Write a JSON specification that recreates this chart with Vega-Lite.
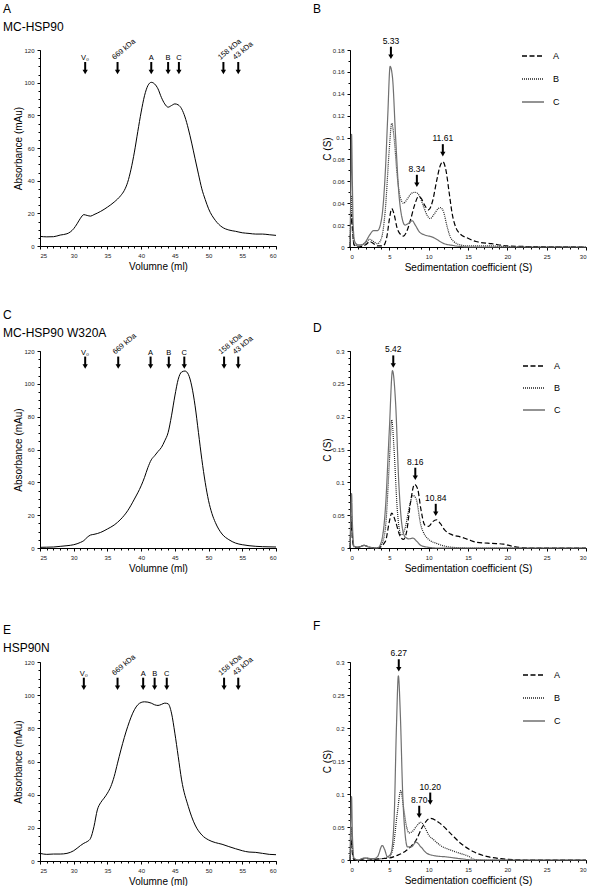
{
"$schema": "https://vega.github.io/schema/vega-lite/v6.json",
"background": "white",
"padding": {"left": 3, "top": 2, "right": 0, "bottom": 0},
"spacing": 47,
"resolve": {"scale": {"color": "independent", "strokeDash": "independent"}},
"vconcat": [
{"spacing": 37, "resolve": {"scale": {"color": "independent", "strokeDash": "independent"}}, "vconcat": [
{"spacing": 35, "resolve": {"scale": {"color": "independent", "strokeDash": "independent"}}, "hconcat": [
{"width": 236, "height": 196,
 "title": {"text": "A", "subtitle": "\u00a0\u00a0\u00a0MC-HSP90"},
 "layer": [
  {"data": {"name": "secA"}, "mark": {"type": "line", "color": "#000", "strokeWidth": 1, "interpolate": "monotone"},
   "encoding": {"x": {"field": "v", "type": "quantitative", "scale": {"domain": [25, 60], "nice": false}, "axis": {"values": [25,30,35,40,45,50,55,60], "title": "Volumne (ml)"}},
                "y": {"field": "a", "type": "quantitative", "scale": {"domain": [0, 120], "nice": false}, "axis": {"values": [0,20,40,60,80,100,120], "title": "Absorbance (mAu)"}}}},
  {"data": {"name": "arrA"}, "mark": {"type": "rule", "color": "#000", "strokeWidth": 2, "yOffset": -3, "y2Offset": -12},
   "encoding": {"x": {"field": "v", "type": "quantitative", "axis": {"values": [25,26,27,28,29,30,31,32,33,34,35,36,37,38,39,40,41,42,43,44,45,46,47,48,49,50,51,52,53,54,55,56,57,58,59,60], "labels": false, "domain": false, "tickSize": 2, "title": null, "orient": "bottom"}},
                "y": {"datum": 105.3, "axis": {"values": [0,5,10,15,20,25,30,35,40,45,50,55,60,65,70,75,80,85,90,95,100,105,110,115,120], "labels": false, "domain": false, "tickSize": 2, "title": null, "orient": "left"}},
                "y2": {"datum": 105.3}}},
  {"data": {"name": "arrA"}, "mark": {"type": "point", "shape": "triangle-down", "filled": true, "size": 28, "color": "#000", "opacity": 1, "yOffset": -2},
   "encoding": {"x": {"field": "v", "type": "quantitative", "axis": null}, "y": {"datum": 105.3, "axis": null}}},
  {"data": {"name": "arrA"}, "transform": [{"filter": "!datum.rot"}], "mark": {"type": "text", "fontSize": 7.5, "font": "Liberation Sans", "baseline": "alphabetic", "align": "center", "yOffset": -14},
   "encoding": {"x": {"field": "v", "type": "quantitative", "axis": null}, "y": {"datum": 105.3, "axis": null}, "text": {"field": "label"}}},
  {"data": {"name": "arrA"}, "transform": [{"filter": "datum.rot"}], "mark": {"type": "text", "fontSize": 7.5, "font": "Liberation Sans", "baseline": "alphabetic", "align": "left", "angle": 320, "yOffset": -14, "xOffset": -3},
   "encoding": {"x": {"field": "v", "type": "quantitative", "axis": null}, "y": {"datum": 105.3, "axis": null}, "text": {"field": "label"}}}
 ],
 "resolve": {"axis": {"x": "independent", "y": "independent"}}
},
{"width": 236, "height": 197,
 "title": {"text": "B", "subtitle": "\u00a0"},
 "layer": [
  {"data": {"name": "svB"}, "mark": {"type": "line", "strokeWidth": 1.2, "interpolate": "monotone"},
   "encoding": {"x": {"field": "s", "type": "quantitative", "scale": {"domain": [0, 30], "nice": false}, "axis": {"values": [0,5,10,15,20,25,30], "title": "Sedimentation coefficient (S)"}},
                "y": {"field": "c", "type": "quantitative", "scale": {"domain": [0, 0.18], "nice": false}, "axis": {"values": [0,0.02,0.04,0.06,0.08,0.1,0.12,0.14,0.16,0.18], "format": ".2~f", "title": "C (S)"}},
                "color": {"field": "sample", "type": "nominal", "scale": {"domain": ["A","B","C"], "range": ["#000000","#222222","#707070"]}, "legend": {"title": null, "orient": "none", "legendX": 171, "legendY": -6, "symbolType": "stroke", "symbolSize": 484, "symbolStrokeWidth": 1.3, "labelFontSize": 9, "labelOffset": 8, "rowPadding": 6, "padding": 0}},
                "strokeDash": {"field": "sample", "type": "nominal", "scale": {"domain": ["A","B","C"], "range": [[5,2.5],[1,1],[1,0]]}, "legend": {"title": null, "orient": "none", "legendX": 171, "legendY": -6, "symbolType": "stroke", "symbolSize": 484, "symbolStrokeWidth": 1.3, "labelFontSize": 9, "labelOffset": 8, "rowPadding": 6, "padding": 0}}}},
  {"data": {"name": "pkB"}, "mark": {"type": "rule", "color": "#000", "strokeWidth": 2, "yOffset": -3, "y2Offset": -12},
   "encoding": {"x": {"field": "s", "type": "quantitative", "axis": {"values": [0,1,2,3,4,5,6,7,8,9,10,11,12,13,14,15,16,17,18,19,20,21,22,23,24,25,26,27,28,29,30], "labels": false, "domain": false, "tickSize": 2, "title": null, "orient": "bottom"}},
                "y": {"field": "tip", "type": "quantitative", "axis": {"values": [0,0.01,0.02,0.03,0.04,0.05,0.06,0.07,0.08,0.09,0.1,0.11,0.12,0.13,0.14,0.15,0.16,0.17,0.18], "labels": false, "domain": false, "tickSize": 2, "title": null, "orient": "left"}},
                "y2": {"field": "tip"}}},
  {"data": {"name": "pkB"}, "mark": {"type": "point", "shape": "triangle-down", "filled": true, "size": 28, "color": "#000", "opacity": 1, "yOffset": -2},
   "encoding": {"x": {"field": "s", "type": "quantitative", "axis": null}, "y": {"field": "tip", "type": "quantitative", "axis": null}}},
  {"data": {"name": "pkB"}, "mark": {"type": "text", "fontSize": 8.5, "font": "Liberation Sans", "baseline": "alphabetic", "align": "center", "yOffset": -15},
   "encoding": {"x": {"field": "s", "type": "quantitative", "axis": null}, "y": {"field": "tip", "type": "quantitative", "axis": null}, "text": {"field": "label"}}}
 ],
 "resolve": {"axis": {"x": "independent", "y": "independent"}}
}
]},
{"spacing": 35, "resolve": {"scale": {"color": "independent", "strokeDash": "independent"}}, "hconcat": [
{"width": 236, "height": 197,
 "title": {"text": "C", "subtitle": "\u00a0\u00a0\u00a0MC-HSP90 W320A", "offset": -8},
 "layer": [
  {"data": {"name": "secC"}, "mark": {"type": "line", "color": "#000", "strokeWidth": 1, "interpolate": "monotone"},
   "encoding": {"x": {"field": "v", "type": "quantitative", "scale": {"domain": [25, 60], "nice": false}, "axis": {"values": [25,30,35,40,45,50,55,60], "title": "Volumne (ml)"}},
                "y": {"field": "a", "type": "quantitative", "scale": {"domain": [0, 120], "nice": false}, "axis": {"values": [0,20,40,60,80,100,120], "title": "Absorbance (mAu)"}}}},
  {"data": {"name": "arrC"}, "mark": {"type": "rule", "color": "#000", "strokeWidth": 2, "yOffset": -3, "y2Offset": -12},
   "encoding": {"x": {"field": "v", "type": "quantitative", "axis": {"values": [25,26,27,28,29,30,31,32,33,34,35,36,37,38,39,40,41,42,43,44,45,46,47,48,49,50,51,52,53,54,55,56,57,58,59,60], "labels": false, "domain": false, "tickSize": 2, "title": null, "orient": "bottom"}},
                "y": {"datum": 109.3, "axis": {"values": [0,5,10,15,20,25,30,35,40,45,50,55,60,65,70,75,80,85,90,95,100,105,110,115,120], "labels": false, "domain": false, "tickSize": 2, "title": null, "orient": "left"}},
                "y2": {"datum": 109.3}}},
  {"data": {"name": "arrC"}, "mark": {"type": "point", "shape": "triangle-down", "filled": true, "size": 28, "color": "#000", "opacity": 1, "yOffset": -2},
   "encoding": {"x": {"field": "v", "type": "quantitative", "axis": null}, "y": {"datum": 109.3, "axis": null}}},
  {"data": {"name": "arrC"}, "transform": [{"filter": "!datum.rot"}], "mark": {"type": "text", "fontSize": 7.5, "font": "Liberation Sans", "baseline": "alphabetic", "align": "center", "yOffset": -14},
   "encoding": {"x": {"field": "v", "type": "quantitative", "axis": null}, "y": {"datum": 109.3, "axis": null}, "text": {"field": "label"}}},
  {"data": {"name": "arrC"}, "transform": [{"filter": "datum.rot"}], "mark": {"type": "text", "fontSize": 7.5, "font": "Liberation Sans", "baseline": "alphabetic", "align": "left", "angle": 320, "yOffset": -14, "xOffset": -3},
   "encoding": {"x": {"field": "v", "type": "quantitative", "axis": null}, "y": {"datum": 109.3, "axis": null}, "text": {"field": "label"}}}
 ],
 "resolve": {"axis": {"x": "independent", "y": "independent"}}
},
{"width": 236, "height": 197,
 "title": {"text": "D", "subtitle": "\u00a0", "offset": -8},
 "layer": [
  {"data": {"name": "svD"}, "mark": {"type": "line", "strokeWidth": 1.2, "interpolate": "monotone"},
   "encoding": {"x": {"field": "s", "type": "quantitative", "scale": {"domain": [0, 30], "nice": false}, "axis": {"values": [0,5,10,15,20,25,30], "title": "Sedimentation coefficient (S)"}},
                "y": {"field": "c", "type": "quantitative", "scale": {"domain": [0, 0.3], "nice": false}, "axis": {"values": [0,0.05,0.1,0.15,0.2,0.25,0.3], "format": ".2~f", "title": "C (S)"}},
                "color": {"field": "sample", "type": "nominal", "scale": {"domain": ["A","B","C"], "range": ["#000000","#222222","#707070"]}, "legend": {"title": null, "orient": "none", "legendX": 172, "legendY": 3, "symbolType": "stroke", "symbolSize": 484, "symbolStrokeWidth": 1.3, "labelFontSize": 9, "labelOffset": 8, "rowPadding": 5, "padding": 0}},
                "strokeDash": {"field": "sample", "type": "nominal", "scale": {"domain": ["A","B","C"], "range": [[5,2.5],[1,1],[1,0]]}, "legend": {"title": null, "orient": "none", "legendX": 172, "legendY": 3, "symbolType": "stroke", "symbolSize": 484, "symbolStrokeWidth": 1.3, "labelFontSize": 9, "labelOffset": 8, "rowPadding": 5, "padding": 0}}}},
  {"data": {"name": "pkD"}, "mark": {"type": "rule", "color": "#000", "strokeWidth": 2, "yOffset": -3, "y2Offset": -12},
   "encoding": {"x": {"field": "s", "type": "quantitative", "axis": {"values": [0,1,2,3,4,5,6,7,8,9,10,11,12,13,14,15,16,17,18,19,20,21,22,23,24,25,26,27,28,29,30], "labels": false, "domain": false, "tickSize": 2, "title": null, "orient": "bottom"}},
                "y": {"field": "tip", "type": "quantitative", "axis": {"values": [0,0.01,0.02,0.03,0.04,0.05,0.06,0.07,0.08,0.09,0.1,0.11,0.12,0.13,0.14,0.15,0.16,0.17,0.18,0.19,0.2,0.21,0.22,0.23,0.24,0.25,0.26,0.27,0.28,0.29,0.3], "labels": false, "domain": false, "tickSize": 2, "title": null, "orient": "left"}},
                "y2": {"field": "tip"}}},
  {"data": {"name": "pkD"}, "mark": {"type": "point", "shape": "triangle-down", "filled": true, "size": 28, "color": "#000", "opacity": 1, "yOffset": -2},
   "encoding": {"x": {"field": "s", "type": "quantitative", "axis": null}, "y": {"field": "tip", "type": "quantitative", "axis": null}}},
  {"data": {"name": "pkD"}, "mark": {"type": "text", "fontSize": 8.5, "font": "Liberation Sans", "baseline": "alphabetic", "align": "center", "yOffset": -15},
   "encoding": {"x": {"field": "s", "type": "quantitative", "axis": null}, "y": {"field": "tip", "type": "quantitative", "axis": null}, "text": {"field": "label"}}}
 ],
 "resolve": {"axis": {"x": "independent", "y": "independent"}}
}
]}
]},
{"spacing": 35, "resolve": {"scale": {"color": "independent", "strokeDash": "independent"}}, "hconcat": [
{"width": 236, "height": 199,
 "title": {"text": "E", "subtitle": "\u00a0\u00a0\u00a0HSP90N", "offset": -2},
 "layer": [
  {"data": {"name": "secE"}, "mark": {"type": "line", "color": "#000", "strokeWidth": 1, "interpolate": "monotone"},
   "encoding": {"x": {"field": "v", "type": "quantitative", "scale": {"domain": [25, 60], "nice": false}, "axis": {"values": [25,30,35,40,45,50,55,60], "title": "Volumne (ml)"}},
                "y": {"field": "a", "type": "quantitative", "scale": {"domain": [0, 120], "nice": false}, "axis": {"values": [0,20,40,60,80,100,120], "title": "Absorbance (mAu)"}}}},
  {"data": {"name": "arrE"}, "mark": {"type": "rule", "color": "#000", "strokeWidth": 2, "yOffset": -3, "y2Offset": -12},
   "encoding": {"x": {"field": "v", "type": "quantitative", "axis": {"values": [25,26,27,28,29,30,31,32,33,34,35,36,37,38,39,40,41,42,43,44,45,46,47,48,49,50,51,52,53,54,55,56,57,58,59,60], "labels": false, "domain": false, "tickSize": 2, "title": null, "orient": "bottom"}},
                "y": {"datum": 103.3, "axis": {"values": [0,5,10,15,20,25,30,35,40,45,50,55,60,65,70,75,80,85,90,95,100,105,110,115,120], "labels": false, "domain": false, "tickSize": 2, "title": null, "orient": "left"}},
                "y2": {"datum": 103.3}}},
  {"data": {"name": "arrE"}, "mark": {"type": "point", "shape": "triangle-down", "filled": true, "size": 28, "color": "#000", "opacity": 1, "yOffset": -2},
   "encoding": {"x": {"field": "v", "type": "quantitative", "axis": null}, "y": {"datum": 103.3, "axis": null}}},
  {"data": {"name": "arrE"}, "transform": [{"filter": "!datum.rot"}], "mark": {"type": "text", "fontSize": 7.5, "font": "Liberation Sans", "baseline": "alphabetic", "align": "center", "yOffset": -14},
   "encoding": {"x": {"field": "v", "type": "quantitative", "axis": null}, "y": {"datum": 103.3, "axis": null}, "text": {"field": "label"}}},
  {"data": {"name": "arrE"}, "transform": [{"filter": "datum.rot"}], "mark": {"type": "text", "fontSize": 7.5, "font": "Liberation Sans", "baseline": "alphabetic", "align": "left", "angle": 320, "yOffset": -14, "xOffset": -3},
   "encoding": {"x": {"field": "v", "type": "quantitative", "axis": null}, "y": {"datum": 103.3, "axis": null}, "text": {"field": "label"}}}
 ],
 "resolve": {"axis": {"x": "independent", "y": "independent"}}
},
{"width": 236, "height": 198,
 "title": {"text": "F", "subtitle": "\u00a0", "offset": -2},
 "layer": [
  {"data": {"name": "svF"}, "mark": {"type": "line", "strokeWidth": 1.2, "interpolate": "monotone"},
   "encoding": {"x": {"field": "s", "type": "quantitative", "scale": {"domain": [0, 30], "nice": false}, "axis": {"values": [0,5,10,15,20,25,30], "title": "Sedimentation coefficient (S)"}},
                "y": {"field": "c", "type": "quantitative", "scale": {"domain": [0, 0.3], "nice": false}, "axis": {"values": [0,0.05,0.1,0.15,0.2,0.25,0.3], "format": ".2~f", "title": "C (S)"}},
                "color": {"field": "sample", "type": "nominal", "scale": {"domain": ["A","B","C"], "range": ["#000000","#222222","#707070"]}, "legend": {"title": null, "orient": "none", "legendX": 172, "legendY": 1, "symbolType": "stroke", "symbolSize": 484, "symbolStrokeWidth": 1.3, "labelFontSize": 9, "labelOffset": 8, "rowPadding": 6, "padding": 0}},
                "strokeDash": {"field": "sample", "type": "nominal", "scale": {"domain": ["A","B","C"], "range": [[5,2.5],[1,1],[1,0]]}, "legend": {"title": null, "orient": "none", "legendX": 172, "legendY": 1, "symbolType": "stroke", "symbolSize": 484, "symbolStrokeWidth": 1.3, "labelFontSize": 9, "labelOffset": 8, "rowPadding": 6, "padding": 0}}}},
  {"data": {"name": "pkF"}, "mark": {"type": "rule", "color": "#000", "strokeWidth": 2, "yOffset": -3, "y2Offset": -12},
   "encoding": {"x": {"field": "s", "type": "quantitative", "axis": {"values": [0,1,2,3,4,5,6,7,8,9,10,11,12,13,14,15,16,17,18,19,20,21,22,23,24,25,26,27,28,29,30], "labels": false, "domain": false, "tickSize": 2, "title": null, "orient": "bottom"}},
                "y": {"field": "tip", "type": "quantitative", "axis": {"values": [0,0.01,0.02,0.03,0.04,0.05,0.06,0.07,0.08,0.09,0.1,0.11,0.12,0.13,0.14,0.15,0.16,0.17,0.18,0.19,0.2,0.21,0.22,0.23,0.24,0.25,0.26,0.27,0.28,0.29,0.3], "labels": false, "domain": false, "tickSize": 2, "title": null, "orient": "left"}},
                "y2": {"field": "tip"}}},
  {"data": {"name": "pkF"}, "mark": {"type": "point", "shape": "triangle-down", "filled": true, "size": 28, "color": "#000", "opacity": 1, "yOffset": -2},
   "encoding": {"x": {"field": "s", "type": "quantitative", "axis": null}, "y": {"field": "tip", "type": "quantitative", "axis": null}}},
  {"data": {"name": "pkF"}, "mark": {"type": "text", "fontSize": 8.5, "font": "Liberation Sans", "baseline": "alphabetic", "align": "center", "yOffset": -15},
   "encoding": {"x": {"field": "s", "type": "quantitative", "axis": null}, "y": {"field": "tip", "type": "quantitative", "axis": null}, "text": {"field": "label"}}}
 ],
 "resolve": {"axis": {"x": "independent", "y": "independent"}}
}
]}
],
"datasets": {
"secA": [
{"v":25,"a":5.9},{"v":26,"a":5.6},{"v":27,"a":5.7},{"v":28,"a":6.7},{"v":29,"a":7.5},{"v":30,"a":10.6},{"v":30.5,"a":13.6},{"v":31,"a":17},{"v":31.5,"a":19.2},{"v":32,"a":18.7},{"v":32.5,"a":18.3},{"v":33,"a":19.2},{"v":34,"a":21.2},{"v":35,"a":23.8},{"v":36,"a":26.9},{"v":37,"a":31},{"v":37.5,"a":34},{"v":38,"a":39},{"v":38.5,"a":47},{"v":39,"a":57.5},{"v":39.5,"a":70},{"v":40,"a":82},{"v":40.5,"a":92},{"v":41,"a":98.2},{"v":41.5,"a":100.2},{"v":42,"a":99.2},{"v":42.5,"a":96.2},{"v":43,"a":91},{"v":43.5,"a":87},{"v":44,"a":85},{"v":44.5,"a":86},{"v":45,"a":87},{"v":45.5,"a":86.4},{"v":46,"a":84},{"v":46.5,"a":79},{"v":47,"a":71.7},{"v":47.5,"a":63},{"v":48,"a":53.4},{"v":48.5,"a":44},{"v":49,"a":35},{"v":49.5,"a":28.5},{"v":50,"a":22.8},{"v":51,"a":15.7},{"v":52,"a":11.6},{"v":53,"a":9.8},{"v":54,"a":9},{"v":55,"a":8.1},{"v":56,"a":7.7},{"v":57,"a":7.3},{"v":58,"a":7.3},{"v":59,"a":6.9},{"v":60,"a":6.5}
],
"secC": [
{"v":25,"a":0.4},{"v":26,"a":0.5},{"v":27,"a":0.6},{"v":28,"a":1},{"v":29,"a":1.4},{"v":30,"a":2},{"v":31,"a":3.4},{"v":31.5,"a":4.5},{"v":32,"a":6.5},{"v":32.5,"a":7.9},{"v":33,"a":8.3},{"v":34,"a":9.5},{"v":35,"a":11.6},{"v":36,"a":14},{"v":37,"a":17.6},{"v":38,"a":22.7},{"v":39,"a":29.8},{"v":40,"a":37.9},{"v":40.5,"a":43},{"v":41,"a":49},{"v":41.5,"a":53.7},{"v":42,"a":56.2},{"v":42.5,"a":58.8},{"v":43,"a":61.2},{"v":43.5,"a":65.3},{"v":44,"a":70.3},{"v":44.5,"a":80.5},{"v":45,"a":92.6},{"v":45.5,"a":102.8},{"v":46,"a":107.2},{"v":46.5,"a":107.8},{"v":47,"a":105.8},{"v":47.5,"a":98.7},{"v":48,"a":86.6},{"v":48.5,"a":70.3},{"v":49,"a":54},{"v":49.5,"a":40},{"v":50,"a":28.8},{"v":50.5,"a":21},{"v":51,"a":15.6},{"v":52,"a":8.5},{"v":53,"a":5.1},{"v":54,"a":3},{"v":55,"a":2},{"v":56,"a":1.4},{"v":58,"a":0.8},{"v":60,"a":0.6}
],
"secE": [
{"v":25,"a":4.6},{"v":26,"a":4},{"v":27,"a":4.2},{"v":28,"a":4.2},{"v":29,"a":4.6},{"v":30,"a":6.2},{"v":31,"a":9.3},{"v":31.5,"a":10.7},{"v":32,"a":11.7},{"v":32.5,"a":13.7},{"v":33,"a":20.7},{"v":33.5,"a":30.8},{"v":34,"a":35.2},{"v":34.5,"a":37.9},{"v":35,"a":40.9},{"v":35.5,"a":44.9},{"v":36,"a":50.9},{"v":36.5,"a":59},{"v":37,"a":67},{"v":38,"a":81},{"v":39,"a":91.2},{"v":39.5,"a":94.2},{"v":40,"a":95.6},{"v":40.5,"a":96},{"v":41,"a":95.8},{"v":41.5,"a":95.2},{"v":42,"a":94.2},{"v":42.5,"a":93.8},{"v":43,"a":94.4},{"v":43.5,"a":95.2},{"v":44,"a":94.8},{"v":44.5,"a":89.2},{"v":45,"a":77.1},{"v":45.5,"a":63},{"v":46,"a":48.9},{"v":47,"a":32.8},{"v":48,"a":21.7},{"v":49,"a":15.7},{"v":50,"a":12.7},{"v":51,"a":11.1},{"v":52,"a":10.1},{"v":53,"a":8.7},{"v":54,"a":7.4},{"v":55,"a":6.2},{"v":56,"a":5.4},{"v":57,"a":5.2},{"v":58,"a":4.6},{"v":59,"a":4},{"v":60,"a":3.8}
],
"arrA": [
{"v":31.7,"label":"V₀","rot":false},{"v":36.5,"label":"669 kDa","rot":true},{"v":41.5,"label":"A","rot":false},{"v":44.0,"label":"B","rot":false},{"v":45.6,"label":"C","rot":false},{"v":52.2,"label":"158 kDa","rot":true},{"v":54.4,"label":"43 kDa","rot":true}
],
"arrC": [
{"v":31.7,"label":"V₀","rot":false},{"v":36.6,"label":"669 kDa","rot":true},{"v":41.4,"label":"A","rot":false},{"v":44.1,"label":"B","rot":false},{"v":46.4,"label":"C","rot":false},{"v":52.3,"label":"158 kDa","rot":true},{"v":54.4,"label":"43 kDa","rot":true}
],
"arrE": [
{"v":31.5,"label":"V₀","rot":false},{"v":36.5,"label":"669 kDa","rot":true},{"v":40.3,"label":"A","rot":false},{"v":42.0,"label":"B","rot":false},{"v":43.8,"label":"C","rot":false},{"v":52.3,"label":"158 kDa","rot":true},{"v":54.4,"label":"43 kDa","rot":true}
],
"pkB": [{"s":5.2,"tip":0.172,"label":"5.33"},{"s":8.5,"tip":0.055,"label":"8.34"},{"s":11.8,"tip":0.083,"label":"11.61"}],
"pkD": [{"s":5.5,"tip":0.275,"label":"5.42"},{"s":8.3,"tip":0.104,"label":"8.16"},{"s":10.9,"tip":0.049,"label":"10.84"}],
"pkF": [{"s":6.2,"tip":0.286,"label":"6.27"},{"s":8.8,"tip":0.064,"label":"8.70"},{"s":10.2,"tip":0.084,"label":"10.20"}],
"svB": [
{"sample":"A","s":0,"c":0},{"sample":"A","s":0.1,"c":0.02},{"sample":"A","s":0.2,"c":0.03},{"sample":"A","s":0.3,"c":0.02},{"sample":"A","s":0.5,"c":0.002},{"sample":"A","s":1,"c":0},{"sample":"A","s":2,"c":0.002},{"sample":"A","s":2.5,"c":0.005},{"sample":"A","s":3,"c":0.003},{"sample":"A","s":3.5,"c":0.001},{"sample":"A","s":4.2,"c":0.001},{"sample":"A","s":4.7,"c":0.01},{"sample":"A","s":5,"c":0.025},{"sample":"A","s":5.3,"c":0.035},{"sample":"A","s":5.6,"c":0.03},{"sample":"A","s":6,"c":0.017},{"sample":"A","s":6.5,"c":0.011},{"sample":"A","s":6.8,"c":0.01},{"sample":"A","s":7.2,"c":0.014},{"sample":"A","s":7.7,"c":0.025},{"sample":"A","s":8.2,"c":0.038},{"sample":"A","s":8.7,"c":0.046},{"sample":"A","s":9.1,"c":0.044},{"sample":"A","s":9.5,"c":0.038},{"sample":"A","s":10,"c":0.034},{"sample":"A","s":10.5,"c":0.042},{"sample":"A","s":11,"c":0.06},{"sample":"A","s":11.5,"c":0.075},{"sample":"A","s":11.8,"c":0.078},{"sample":"A","s":12.2,"c":0.07},{"sample":"A","s":12.6,"c":0.05},{"sample":"A","s":13,"c":0.03},{"sample":"A","s":13.5,"c":0.017},{"sample":"A","s":14,"c":0.012},{"sample":"A","s":15,"c":0.008},{"sample":"A","s":16,"c":0.005},{"sample":"A","s":18,"c":0.003},{"sample":"A","s":20,"c":0.001},{"sample":"A","s":22,"c":0.0005},{"sample":"A","s":30,"c":0},
{"sample":"B","s":0,"c":0},{"sample":"B","s":0.1,"c":0.03},{"sample":"B","s":0.2,"c":0.047},{"sample":"B","s":0.3,"c":0.02},{"sample":"B","s":0.5,"c":0.003},{"sample":"B","s":1,"c":0.001},{"sample":"B","s":2,"c":0.004},{"sample":"B","s":2.5,"c":0.007},{"sample":"B","s":3,"c":0.005},{"sample":"B","s":3.5,"c":0.003},{"sample":"B","s":4,"c":0.008},{"sample":"B","s":4.5,"c":0.035},{"sample":"B","s":5,"c":0.09},{"sample":"B","s":5.3,"c":0.113},{"sample":"B","s":5.6,"c":0.1},{"sample":"B","s":6,"c":0.065},{"sample":"B","s":6.4,"c":0.045},{"sample":"B","s":6.8,"c":0.04},{"sample":"B","s":7.3,"c":0.044},{"sample":"B","s":7.8,"c":0.049},{"sample":"B","s":8.3,"c":0.05},{"sample":"B","s":8.8,"c":0.047},{"sample":"B","s":9.3,"c":0.038},{"sample":"B","s":9.8,"c":0.029},{"sample":"B","s":10.2,"c":0.026},{"sample":"B","s":10.7,"c":0.03},{"sample":"B","s":11.2,"c":0.035},{"sample":"B","s":11.5,"c":0.036},{"sample":"B","s":11.9,"c":0.032},{"sample":"B","s":12.3,"c":0.02},{"sample":"B","s":12.7,"c":0.01},{"sample":"B","s":13.2,"c":0.005},{"sample":"B","s":14,"c":0.002},{"sample":"B","s":15,"c":0.001},{"sample":"B","s":18,"c":0.001},{"sample":"B","s":20,"c":0.0003},{"sample":"B","s":30,"c":0},
{"sample":"C","s":0,"c":0},{"sample":"C","s":0.1,"c":0.05},{"sample":"C","s":0.2,"c":0.103},{"sample":"C","s":0.3,"c":0.06},{"sample":"C","s":0.4,"c":0.02},{"sample":"C","s":0.6,"c":0.005},{"sample":"C","s":1,"c":0.002},{"sample":"C","s":1.5,"c":0.002},{"sample":"C","s":2,"c":0.005},{"sample":"C","s":2.5,"c":0.011},{"sample":"C","s":3,"c":0.015},{"sample":"C","s":3.5,"c":0.015},{"sample":"C","s":4,"c":0.025},{"sample":"C","s":4.5,"c":0.07},{"sample":"C","s":4.8,"c":0.12},{"sample":"C","s":5.1,"c":0.165},{"sample":"C","s":5.4,"c":0.155},{"sample":"C","s":5.8,"c":0.1},{"sample":"C","s":6.2,"c":0.05},{"sample":"C","s":6.6,"c":0.027},{"sample":"C","s":7,"c":0.02},{"sample":"C","s":7.5,"c":0.022},{"sample":"C","s":7.9,"c":0.024},{"sample":"C","s":8.3,"c":0.02},{"sample":"C","s":8.8,"c":0.014},{"sample":"C","s":9.5,"c":0.011},{"sample":"C","s":10.5,"c":0.009},{"sample":"C","s":11,"c":0.007},{"sample":"C","s":12,"c":0.003},{"sample":"C","s":13,"c":0.0015},{"sample":"C","s":14,"c":0.0005},{"sample":"C","s":15,"c":0},{"sample":"C","s":30,"c":0}
],
"svD": [
{"sample":"A","s":0,"c":0},{"sample":"A","s":0.1,"c":0.025},{"sample":"A","s":0.2,"c":0.04},{"sample":"A","s":0.3,"c":0.015},{"sample":"A","s":0.5,"c":0.002},{"sample":"A","s":1,"c":0.001},{"sample":"A","s":1.8,"c":0.004},{"sample":"A","s":2.5,"c":0.001},{"sample":"A","s":3.5,"c":0},{"sample":"A","s":4.5,"c":0.01},{"sample":"A","s":5,"c":0.04},{"sample":"A","s":5.3,"c":0.053},{"sample":"A","s":5.8,"c":0.04},{"sample":"A","s":6.3,"c":0.02},{"sample":"A","s":6.8,"c":0.013},{"sample":"A","s":7.2,"c":0.025},{"sample":"A","s":7.7,"c":0.07},{"sample":"A","s":8.2,"c":0.097},{"sample":"A","s":8.6,"c":0.09},{"sample":"A","s":9,"c":0.06},{"sample":"A","s":9.5,"c":0.035},{"sample":"A","s":10,"c":0.033},{"sample":"A","s":10.5,"c":0.04},{"sample":"A","s":11,"c":0.043},{"sample":"A","s":11.5,"c":0.037},{"sample":"A","s":12,"c":0.028},{"sample":"A","s":13,"c":0.02},{"sample":"A","s":14,"c":0.017},{"sample":"A","s":15,"c":0.013},{"sample":"A","s":16,"c":0.009},{"sample":"A","s":18,"c":0.007},{"sample":"A","s":19.5,"c":0.006},{"sample":"A","s":20.5,"c":0.003},{"sample":"A","s":21.5,"c":0.001},{"sample":"A","s":23,"c":0},{"sample":"A","s":30,"c":0},
{"sample":"B","s":0,"c":0},{"sample":"B","s":0.1,"c":0.03},{"sample":"B","s":0.2,"c":0.05},{"sample":"B","s":0.3,"c":0.02},{"sample":"B","s":0.5,"c":0.002},{"sample":"B","s":1,"c":0.001},{"sample":"B","s":1.8,"c":0.004},{"sample":"B","s":2.5,"c":0.001},{"sample":"B","s":3.5,"c":0},{"sample":"B","s":4,"c":0.005},{"sample":"B","s":4.5,"c":0.03},{"sample":"B","s":5,"c":0.13},{"sample":"B","s":5.3,"c":0.195},{"sample":"B","s":5.6,"c":0.15},{"sample":"B","s":6,"c":0.06},{"sample":"B","s":6.5,"c":0.02},{"sample":"B","s":7,"c":0.03},{"sample":"B","s":7.5,"c":0.06},{"sample":"B","s":8,"c":0.08},{"sample":"B","s":8.4,"c":0.075},{"sample":"B","s":9,"c":0.035},{"sample":"B","s":9.5,"c":0.02},{"sample":"B","s":10,"c":0.013},{"sample":"B","s":11,"c":0.007},{"sample":"B","s":12,"c":0.003},{"sample":"B","s":13,"c":0.001},{"sample":"B","s":15,"c":0},{"sample":"B","s":30,"c":0},
{"sample":"C","s":0,"c":0},{"sample":"C","s":0.1,"c":0.05},{"sample":"C","s":0.2,"c":0.083},{"sample":"C","s":0.3,"c":0.04},{"sample":"C","s":0.5,"c":0.003},{"sample":"C","s":1,"c":0.001},{"sample":"C","s":1.8,"c":0.004},{"sample":"C","s":2.5,"c":0.001},{"sample":"C","s":3.5,"c":0},{"sample":"C","s":4,"c":0.01},{"sample":"C","s":4.5,"c":0.06},{"sample":"C","s":5,"c":0.18},{"sample":"C","s":5.4,"c":0.27},{"sample":"C","s":5.8,"c":0.22},{"sample":"C","s":6.2,"c":0.1},{"sample":"C","s":6.6,"c":0.035},{"sample":"C","s":7,"c":0.017},{"sample":"C","s":7.5,"c":0.014},{"sample":"C","s":8,"c":0.015},{"sample":"C","s":8.5,"c":0.01},{"sample":"C","s":9,"c":0.004},{"sample":"C","s":10,"c":0.001},{"sample":"C","s":11,"c":0},{"sample":"C","s":30,"c":0}
],
"svF": [
{"sample":"A","s":0,"c":0},{"sample":"A","s":0.1,"c":0.02},{"sample":"A","s":0.2,"c":0.03},{"sample":"A","s":0.3,"c":0.01},{"sample":"A","s":0.5,"c":0.001},{"sample":"A","s":1,"c":0},{"sample":"A","s":2,"c":0.002},{"sample":"A","s":3,"c":0.001},{"sample":"A","s":4,"c":0.002},{"sample":"A","s":5,"c":0.003},{"sample":"A","s":6,"c":0.007},{"sample":"A","s":7,"c":0.013},{"sample":"A","s":7.7,"c":0.02},{"sample":"A","s":8.4,"c":0.03},{"sample":"A","s":9.2,"c":0.05},{"sample":"A","s":10.2,"c":0.063},{"sample":"A","s":11.5,"c":0.055},{"sample":"A","s":12.8,"c":0.04},{"sample":"A","s":14.1,"c":0.025},{"sample":"A","s":15.8,"c":0.012},{"sample":"A","s":17.5,"c":0.005},{"sample":"A","s":19.2,"c":0.002},{"sample":"A","s":20.9,"c":0.0005},{"sample":"A","s":22,"c":0},{"sample":"A","s":30,"c":0},
{"sample":"B","s":0,"c":0},{"sample":"B","s":0.1,"c":0.03},{"sample":"B","s":0.2,"c":0.05},{"sample":"B","s":0.3,"c":0.02},{"sample":"B","s":0.5,"c":0.002},{"sample":"B","s":1,"c":0},{"sample":"B","s":2,"c":0.003},{"sample":"B","s":3,"c":0.001},{"sample":"B","s":4,"c":0.002},{"sample":"B","s":5,"c":0.005},{"sample":"B","s":5.5,"c":0.02},{"sample":"B","s":6,"c":0.07},{"sample":"B","s":6.45,"c":0.105},{"sample":"B","s":6.8,"c":0.08},{"sample":"B","s":7.2,"c":0.05},{"sample":"B","s":7.5,"c":0.041},{"sample":"B","s":8,"c":0.044},{"sample":"B","s":8.5,"c":0.052},{"sample":"B","s":9,"c":0.057},{"sample":"B","s":9.4,"c":0.052},{"sample":"B","s":10,"c":0.038},{"sample":"B","s":10.7,"c":0.03},{"sample":"B","s":11.5,"c":0.022},{"sample":"B","s":12.8,"c":0.015},{"sample":"B","s":14,"c":0.01},{"sample":"B","s":15,"c":0.006},{"sample":"B","s":15.8,"c":0.001},{"sample":"B","s":17,"c":0},{"sample":"B","s":30,"c":0},
{"sample":"C","s":0,"c":0},{"sample":"C","s":0.1,"c":0.06},{"sample":"C","s":0.2,"c":0.096},{"sample":"C","s":0.3,"c":0.04},{"sample":"C","s":0.5,"c":0.003},{"sample":"C","s":1,"c":0},{"sample":"C","s":1.8,"c":0.003},{"sample":"C","s":3,"c":0.002},{"sample":"C","s":3.5,"c":0.005},{"sample":"C","s":4.1,"c":0.022},{"sample":"C","s":4.4,"c":0.016},{"sample":"C","s":4.75,"c":0.005},{"sample":"C","s":5.2,"c":0.01},{"sample":"C","s":5.6,"c":0.06},{"sample":"C","s":5.9,"c":0.2},{"sample":"C","s":6.15,"c":0.279},{"sample":"C","s":6.4,"c":0.22},{"sample":"C","s":6.7,"c":0.1},{"sample":"C","s":7,"c":0.04},{"sample":"C","s":7.3,"c":0.02},{"sample":"C","s":7.8,"c":0.02},{"sample":"C","s":8.4,"c":0.027},{"sample":"C","s":9,"c":0.02},{"sample":"C","s":9.8,"c":0.01},{"sample":"C","s":11,"c":0.006},{"sample":"C","s":12,"c":0.005},{"sample":"C","s":14,"c":0.002},{"sample":"C","s":15.8,"c":0},{"sample":"C","s":30,"c":0}
]
},
"config": {
 "view": {"stroke": null},
 "font": "Liberation Sans",
 "axis": {"labelFont": "Liberation Sans", "labelFontSize": 6, "labelColor": "#222", "titleFont": "Liberation Sans", "titleFontSize": 10, "titleFontWeight": "normal", "titleColor": "#000", "domainColor": "#000", "tickColor": "#000", "grid": false, "tickSize": 3, "labelPadding": 3},
 "axisX": {"titlePadding": 3},
 "axisY": {"titlePadding": 0},
 "legend": {"labelFont": "Liberation Sans", "labelColor": "#000"},
 "title": {"font": "Liberation Sans", "fontSize": 12, "fontWeight": "normal", "anchor": "start", "frame": "group", "subtitleFont": "Liberation Sans", "subtitleFontSize": 12, "subtitlePadding": 6, "offset": 3, "dx": -37, "color": "#000", "subtitleColor": "#000"}
}
}
